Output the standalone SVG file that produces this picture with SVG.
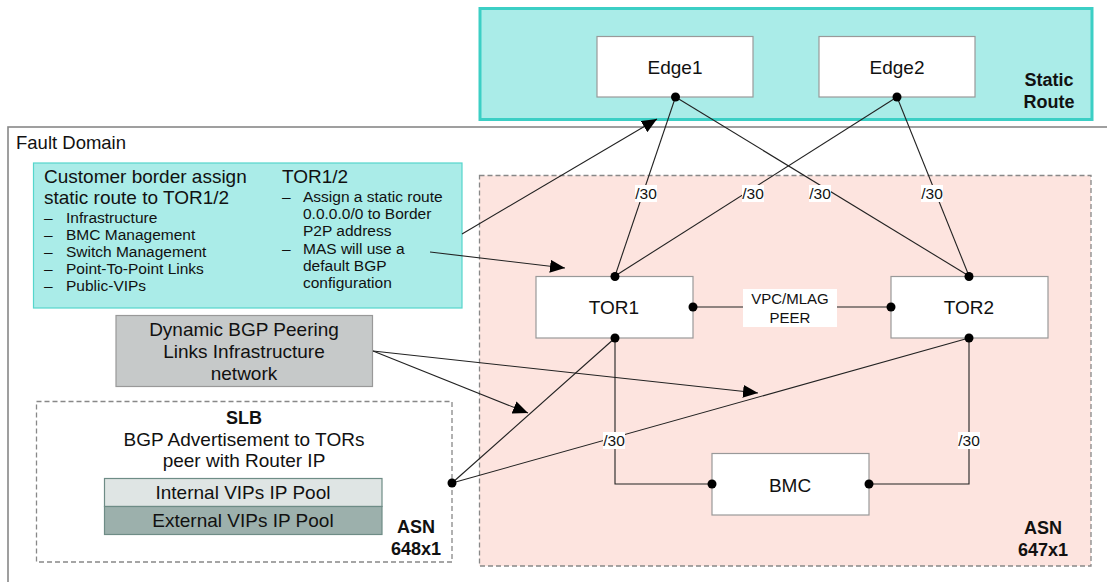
<svg xmlns="http://www.w3.org/2000/svg" width="1107" height="582" viewBox="0 0 1107 582">
<style>
text{font-family:"Liberation Sans",Arial,sans-serif;fill:#111}
.node{fill:#fff;stroke:#999;stroke-width:1.2}
.nl{font-size:19px;text-anchor:middle}
.b{font-weight:bold}
.c{text-anchor:middle}
.ln{stroke:#222;stroke-width:1.1;fill:none}
.dot{fill:#000}
.lb{fill:#fff}
.s30{font-size:15.5px;text-anchor:middle}
.li{font-size:15.5px}
.h{font-size:19px}
</style>
<defs>
<marker id="ah" markerWidth="15" markerHeight="13" refX="15" refY="6.5" orient="auto" markerUnits="userSpaceOnUse">
<path d="M0,0 L15,6.5 L0,13 z" fill="#000"/>
</marker>
</defs>
<rect width="1107" height="582" fill="#fff"/>
<g id="fault-domain">
<rect x="8" y="127" width="1110" height="470" fill="none" stroke="#888" stroke-width="1.6"/>
<text x="16" y="149" font-size="18.5">Fault Domain</text>
</g>
<g id="static-route">
<rect x="480" y="8.5" width="612" height="111" fill="#aaece8" stroke="#3ccfc5" stroke-width="3"/>
<text x="1049" y="86" font-size="18" class="b c">Static</text>
<text x="1049" y="108" font-size="18" class="b c">Route</text>
</g>
<g id="asn-647">
<rect x="479.5" y="175.5" width="611.5" height="390.5" fill="#fde4df" stroke="#888" stroke-width="1.3" stroke-dasharray="5,3"/>
<text x="1043" y="534" font-size="18" class="b c">ASN</text>
<text x="1043" y="556" font-size="18" class="b c">647x1</text>
</g>
<g id="customer-note">
<rect x="33.5" y="163" width="428.5" height="145" fill="#aaece8" stroke="#55d6cc" stroke-width="1.2"/>
<text x="44" y="183" class="h">Customer border assign</text>
<text x="44" y="204" class="h">static route to TOR1/2</text>
<text x="44" y="223" class="li">–</text><text x="66" y="223" class="li">Infrastructure</text>
<text x="44" y="240" class="li">–</text><text x="66" y="240" class="li">BMC Management</text>
<text x="44" y="257" class="li">–</text><text x="66" y="257" class="li">Switch Management</text>
<text x="44" y="274" class="li">–</text><text x="66" y="274" class="li">Point-To-Point Links</text>
<text x="44" y="291" class="li">–</text><text x="66" y="291" class="li">Public-VIPs</text>
<text x="282" y="183" class="h">TOR1/2</text>
<text x="282" y="202" class="li">–</text><text x="303" y="202" class="li">Assign a static route</text>
<text x="303" y="219" class="li">0.0.0.0/0 to Border</text>
<text x="303" y="236" class="li">P2P address</text>
<text x="282" y="254" class="li">–</text><text x="303" y="254" class="li">MAS will use a</text>
<text x="303" y="271" class="li">default BGP</text>
<text x="303" y="288" class="li">configuration</text>
</g>
<g id="dynamic-bgp">
<rect x="116" y="315.5" width="256.5" height="71" fill="#c6c9c9" stroke="#999" stroke-width="1.2"/>
<text x="244" y="336" class="nl">Dynamic BGP Peering</text>
<text x="244" y="358" class="nl">Links Infrastructure</text>
<text x="244" y="380" class="nl">network</text>
</g>
<g id="slb">
<rect x="36.5" y="401.5" width="415.5" height="160.5" fill="#fff" stroke="#888" stroke-width="1.3" stroke-dasharray="5,3"/>
<text x="244" y="424" font-size="18" class="b c">SLB</text>
<text x="244" y="446" class="nl">BGP Advertisement to TORs</text>
<text x="244" y="467" class="nl">peer with Router IP</text>
<rect x="104.5" y="478.5" width="277.5" height="28" fill="#dfe5e4" stroke="#6e8c86" stroke-width="1.2"/>
<text x="243" y="499" class="nl">Internal VIPs IP Pool</text>
<rect x="104.5" y="506.5" width="277.5" height="28" fill="#9cb0ac" stroke="#6e8c86" stroke-width="1.2"/>
<text x="243" y="527" class="nl">External VIPs IP Pool</text>
<text x="416" y="533" font-size="18" class="b c">ASN</text>
<text x="416" y="555" font-size="18" class="b c">648x1</text>
</g>
<g id="edge1">
<rect x="597" y="36.5" width="156" height="60.5" class="node"/>
<text x="675" y="74" class="nl">Edge1</text>
</g>
<g id="edge2">
<rect x="819" y="36.5" width="156" height="60.5" class="node"/>
<text x="897" y="74" class="nl">Edge2</text>
</g>
<g id="tor1">
<rect x="536" y="276.5" width="157" height="61.5" class="node"/>
<text x="614" y="314" class="nl">TOR1</text>
</g>
<g id="tor2">
<rect x="891" y="276.5" width="157" height="61.5" class="node"/>
<text x="969" y="314" class="nl">TOR2</text>
</g>
<g id="bmc">
<rect x="712" y="453.5" width="157" height="61.5" class="node"/>
<text x="790" y="492" class="nl">BMC</text>
</g>
<g id="connectors">
<line x1="675.5" y1="97" x2="615" y2="276" class="ln"/>
<line x1="675.5" y1="97" x2="969" y2="276" class="ln"/>
<line x1="897" y1="97" x2="615" y2="276" class="ln"/>
<line x1="897" y1="97" x2="969" y2="276" class="ln"/>
<line x1="693" y1="307" x2="891" y2="307" class="ln"/>
<polyline points="615,338 615,484 712,484" class="ln"/>
<polyline points="969,338 969,484 869,484" class="ln"/>
<line x1="452" y1="483" x2="615" y2="338" class="ln"/>
<line x1="452" y1="483" x2="969" y2="338" class="ln"/>
<line x1="462" y1="234" x2="657" y2="119" class="ln" marker-end="url(#ah)"/>
<line x1="430" y1="252" x2="565" y2="268" class="ln" marker-end="url(#ah)"/>
<line x1="373" y1="351" x2="528" y2="413" class="ln" marker-end="url(#ah)"/>
<line x1="373" y1="351" x2="758" y2="393" class="ln" marker-end="url(#ah)"/>
<circle cx="675.5" cy="97" r="4.5" class="dot"/>
<circle cx="897" cy="97" r="4.5" class="dot"/>
<circle cx="615" cy="276.5" r="4.5" class="dot"/>
<circle cx="969" cy="276.5" r="4.5" class="dot"/>
<circle cx="693" cy="307" r="4.5" class="dot"/>
<circle cx="891" cy="307" r="4.5" class="dot"/>
<circle cx="615" cy="338" r="4.5" class="dot"/>
<circle cx="969" cy="338" r="4.5" class="dot"/>
<circle cx="712" cy="484" r="4.5" class="dot"/>
<circle cx="869" cy="484" r="4.5" class="dot"/>
<circle cx="452" cy="483" r="4.5" class="dot"/>
<rect x="743" y="289" width="94" height="38" class="lb"/>
<text x="790" y="304" font-size="15" class="c">VPC/MLAG</text>
<text x="790" y="323" font-size="15" class="c">PEER</text>
<rect x="635" y="185" width="22" height="17" class="lb"/>
<text x="646" y="199" class="s30">/30</text>
<rect x="742" y="185" width="22" height="17" class="lb"/>
<text x="753" y="199" class="s30">/30</text>
<rect x="809" y="185" width="22" height="17" class="lb"/>
<text x="820" y="199" class="s30">/30</text>
<rect x="921" y="185" width="22" height="17" class="lb"/>
<text x="932" y="199" class="s30">/30</text>
<rect x="603" y="432" width="22" height="17" class="lb"/>
<text x="614" y="446" class="s30">/30</text>
<rect x="958" y="432" width="22" height="17" class="lb"/>
<text x="969" y="446" class="s30">/30</text>
</g>
</svg>
